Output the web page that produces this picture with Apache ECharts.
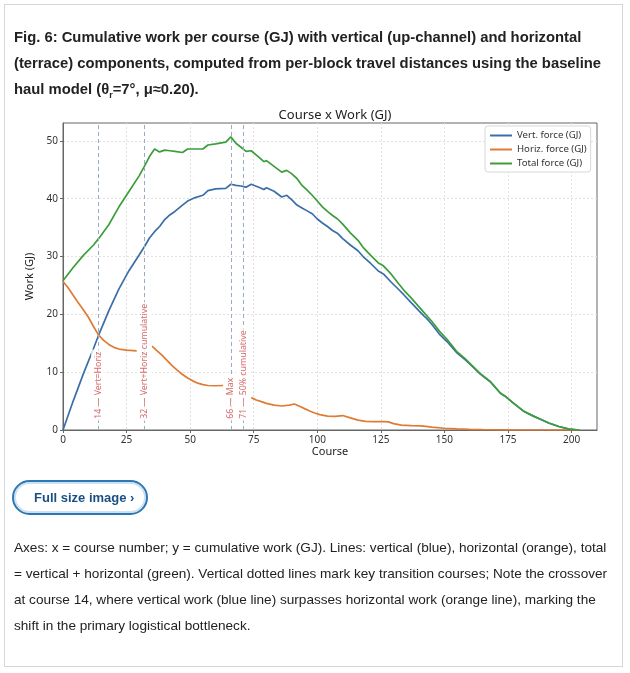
<!DOCTYPE html>
<html>
<head>
<meta charset="utf-8">
<script src="https://cdn.jsdelivr.net/npm/echarts@6/dist/echarts.min.js"></script>
<style>
html,body{margin:0;padding:0;background:#fff;width:630px;height:673px;overflow:hidden;font-family:"Liberation Sans",Arial,sans-serif;}
#frame{position:absolute;left:4px;top:4px;width:619px;height:663px;border:1px solid #d6d6d6;box-sizing:border-box;}
#chart{position:absolute;left:0;top:0;width:630px;height:673px;}
.cap{position:absolute;left:14px;top:24px;font-weight:bold;font-size:14.8px;line-height:26px;color:#222;white-space:nowrap;z-index:2;}
.btn{position:absolute;left:12px;top:480px;width:136px;height:35px;box-sizing:border-box;border:2px solid #2a78b6;border-radius:18px;box-shadow:inset 0 0 0 2px #cfe1f0;z-index:2;
 font-weight:bold;font-size:13px;color:#1b4f84;line-height:31px;padding-left:20px;white-space:nowrap;}
.desc{position:absolute;left:14px;top:535px;font-size:13.6px;line-height:26px;color:#222;white-space:nowrap;z-index:2;}
</style>
</head>
<body>
<div id="frame"></div>
<div id="chart"></div>
<div class="cap">Fig. 6: Cumulative work per course (GJ) with vertical (up-channel) and horizontal<br>(terrace) components, computed from per-block travel distances using the baseline<br>haul model (θ<sub style="font-size:9px">r</sub>=7°, μ≈0.20).</div>
<div class="btn">Full size image ›</div>
<div class="desc">Axes: x = course number; y = cumulative work (GJ). Lines: vertical (blue), horizontal (orange), total<br>= vertical + horizontal (green). Vertical dotted lines mark key transition courses; Note the crossover<br>at course 14, where vertical work (blue line) surpasses horizontal work (orange line), marking the<br>shift in the primary logistical bottleneck.</div>
<script>
// ---- data ----
const xTicks = [0,25,50,75,100,125,150,175,200];
const yTicks = [0,10,20,30,40,50];
const courses = [0,4,8,12,14,18,22,26,30,32,34,36,38,40,42,44,47,49,52,55,57,60,64,66,68,70,72,74,77,79,80,83,86,88,90,92,94,96,98,100,102,104,106,108,110,113,116,118,121,124,126,129,132,134,137,140,142,143,145,148,151,155,158,161,164,168,172,174,177,181,185,188,191,195,199,203];
const vertWork = [0,5.0,9.7,14.1,16.4,20.6,24.4,27.6,30.3,31.7,33.2,34.3,35.2,36.4,37.2,37.8,38.9,39.6,40.2,40.6,41.4,41.7,41.8,42.5,42.3,42.2,42.0,42.5,42.0,41.6,41.9,41.3,40.3,40.6,39.8,38.9,38.4,37.9,37.4,36.5,35.8,35.2,34.5,34.0,33.1,32.0,31.0,30.0,28.8,27.5,27.0,25.6,24.3,23.4,22.0,20.6,19.7,19.3,18.3,16.6,15.3,13.3,12.2,11.0,9.7,8.35,6.35,5.8,4.7,3.3,2.4,1.8,1.2,0.6,0.15,0];
const totalWork = [25.8,28.1,30.2,32.0,33.1,35.5,38.6,41.3,44.0,45.6,47.3,48.6,48.1,48.4,48.3,48.2,48.0,48.6,48.6,48.6,49.3,49.5,49.8,50.7,49.6,48.9,48.2,48.3,47.2,46.4,46.6,45.6,44.6,44.9,44.3,43.5,42.3,41.5,40.6,39.6,38.6,37.8,37.1,36.5,35.6,34.1,32.8,31.6,30.2,28.9,28.4,27.0,25.3,24.2,22.8,21.3,20.3,19.8,18.8,17.1,15.7,13.5,12.4,11.1,9.8,8.4,6.4,5.8,4.7,3.3,2.4,1.8,1.2,0.6,0.15,0];
const horizCourses = [0,2,4,6,8,10,12,14,16,18,20,22,25,29,32,35,37,39,41,43,45,47,49,51,53,55,57,60,63,68,74,76,78,80,83,86,89,91,93,95,97,99,101,104,107,110,113,116,119,122,126,128,130,133,137,141,145,150,155,160,165,175,190,203];
const horizWork = [25.7,24.6,23.3,22.0,20.8,19.5,17.9,16.4,15.5,14.8,14.3,14.0,13.8,13.7,null,14.5,13.7,12.9,12.0,11.1,10.3,9.6,9.0,8.5,8.1,7.85,7.7,7.65,7.7,null,5.6,5.2,4.9,4.6,4.3,4.15,4.3,4.5,4.1,3.7,3.3,2.95,2.65,2.4,2.35,2.5,2.1,1.7,1.5,1.45,1.45,1.4,1.1,0.85,0.75,0.7,0.5,0.3,0.2,0.12,0.06,0.02,0,0];
const markCourses = [14,32,66,71];
const markLabels = ['14 — Vert=Horiz','32 — Vert+Horiz cumulative','66 — Max','71 — 50% cumulative'];
const seriesNames = ['Vert. force (GJ)','Horiz. force (GJ)','Total force (GJ)'];
const seriesColors = ['#3b6ea8','#e07b35','#3c9e3a'];

const zip = (xs, ys) => xs.map((x, i) => [x, ys[i]]);
const chartFont = '"Noto Sans", "DejaVu Sans", sans-serif';

const chart = echarts.init(document.getElementById('chart'), null, {renderer:'canvas'});
chart.setOption({
  animation:false,
  textStyle:{fontFamily:chartFont},
  title:{text:'Course x Work (GJ)', left:330, top:104, textAlign:'center',
    textStyle:{fontSize:13, fontWeight:'normal', color:'#222', fontFamily:chartFont}},
  legend:{data:seriesNames, orient:'vertical', left:485, top:126, icon:'rect', itemWidth:22, itemHeight:2, itemGap:1,
    padding:[3,4,2,5], backgroundColor:'#fff', borderColor:'#d8d8d8', borderWidth:1, borderRadius:3,
    textStyle:{fontSize:9.6, color:'#333', fontFamily:chartFont, lineHeight:13}},
  grid:{left:63, right:33, top:123, bottom:243, show:true, borderColor:'#666', borderWidth:1, backgroundColor:'transparent'},
  xAxis:{type:'value', min:0, max:210, interval:25,
    name:'Course', nameLocation:'middle', nameGap:16, nameTextStyle:{fontSize:11, color:'#222'},
    axisLine:{show:true, lineStyle:{color:'#666'}},
    axisTick:{show:true, length:3, lineStyle:{color:'#666'}, customValues:xTicks},
    axisLabel:{fontSize:10, color:'#333', margin:5, customValues:xTicks},
    splitLine:{show:true, lineStyle:{color:'#e0e0e0', type:[2,2], width:1}}},
  yAxis:{type:'value', min:0, max:53.1, interval:10,
    name:'Work (GJ)', nameLocation:'middle', nameGap:16, nameTextStyle:{fontSize:11, color:'#222'},
    axisLine:{show:true, lineStyle:{color:'#666'}},
    axisTick:{show:true, length:3, lineStyle:{color:'#666'}, customValues:yTicks},
    axisLabel:{fontSize:10, color:'#333', margin:5, customValues:yTicks},
    splitLine:{show:true, lineStyle:{color:'#e0e0e0', type:[2,2], width:1}}},
  series:[
    {name:seriesNames[0], type:'line', data:zip(courses, vertWork), symbol:'none', z:2,
      lineStyle:{width:1.7, color:seriesColors[0]}, itemStyle:{color:seriesColors[0]},
      markLine:{silent:true, symbol:['none','none'], label:{show:false},
        lineStyle:{type:[4,3], color:'#98adc2', width:1}, data:markCourses.map(v => ({xAxis:v}))}},
    {name:seriesNames[1], type:'line', data:zip(horizCourses, horizWork), symbol:'none', z:3, connectNulls:false,
      lineStyle:{width:1.7, color:seriesColors[1]}, itemStyle:{color:seriesColors[1]}},
    {name:seriesNames[2], type:'line', data:zip(courses, totalWork), symbol:'none', z:4,
      lineStyle:{width:1.7, color:seriesColors[2]}, itemStyle:{color:seriesColors[2]}},
    {name:'labels', type:'scatter', z:10, symbolSize:0, silent:true,
      data:markCourses.map(v => [v, 1.6]),
      label:{show:true, position:'inside', rotate:90, align:'left', verticalAlign:'middle',
        formatter:p => markLabels[p.dataIndex], fontSize:8.8, color:'#cc4444',
        backgroundColor:'#fff', padding:[3,2,3,2], fontFamily:chartFont}}
  ]
});
</script>
</body>
</html>
